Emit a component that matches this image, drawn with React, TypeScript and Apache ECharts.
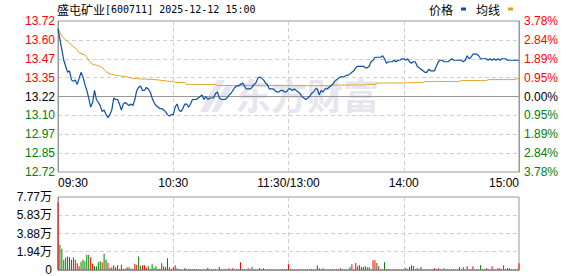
import React, { useEffect, useRef } from "react";
import * as echarts from "echarts";

const stockName = "盛屯矿业";
const stockInfo = "[600711] 2025-12-12 15:00";
const prevClose = 13.22;
const priceHalfRange = 0.5;
const priceInterval = 0.125;

const priceTickLabels = ["12.72", "12.85", "12.97", "13.10", "13.22", "13.35", "13.47", "13.60", "13.72"];
const pctTickLabels = ["3.78%", "2.84%", "1.89%", "0.95%", "0.00%", "0.95%", "1.89%", "2.84%", "3.78%"];
const volMax = 77700;
const volInterval = 19425;
const volTickLabels = ["0", "1.94万", "3.88万", "5.83万", "7.77万"];
const timeTickIndex = [0, 60, 120, 180, 240];
const timeTickLabels = ["09:30", "10:30", "11:30/13:00", "14:00", "15:00"];

// minute-by-minute price (241 points)
const prices = [
  13.67, 13.60, 13.53, 13.46, 13.42, 13.38, 13.39, 13.33, 13.32, 13.33,
  13.30, 13.34, 13.38, 13.35, 13.30, 13.26, 13.21, 13.15, 13.18, 13.26,
  13.20, 13.18, 13.16, 13.12, 13.13, 13.10, 13.08, 13.10, 13.13, 13.21,
  13.20, 13.20, 13.17, 13.13, 13.17, 13.18, 13.17, 13.16, 13.17, 13.16,
  13.20, 13.26, 13.28, 13.29, 13.26, 13.26, 13.28, 13.27, 13.25, 13.21,
  13.18, 13.16, 13.15, 13.14, 13.14, 13.13, 13.12, 13.10, 13.09, 13.10,
  13.10, 13.15, 13.17, 13.13, 13.12, 13.14, 13.17, 13.17, 13.15, 13.17,
  13.20, 13.20, 13.20, 13.21, 13.22, 13.23, 13.20, 13.22, 13.20, 13.21,
  13.21, 13.21, 13.24, 13.25, 13.21, 13.20, 13.20, 13.20, 13.21, 13.23,
  13.24, 13.26, 13.28, 13.29, 13.29, 13.30, 13.31, 13.29, 13.27, 13.27,
  13.27, 13.28, 13.30, 13.31, 13.34, 13.35, 13.34, 13.33, 13.31, 13.30,
  13.27, 13.27, 13.27, 13.26, 13.25, 13.25, 13.26, 13.26, 13.25, 13.25,
  13.27, 13.27, 13.26, 13.27, 13.26, 13.25, 13.24, 13.22, 13.21, 13.20,
  13.21, 13.22, 13.24, 13.25, 13.27, 13.27, 13.23, 13.26, 13.25, 13.27,
  13.27, 13.28, 13.29, 13.30, 13.32, 13.33, 13.34, 13.35, 13.35, 13.35,
  13.36, 13.36, 13.37, 13.38, 13.39, 13.41, 13.42, 13.42, 13.42, 13.42,
  13.41, 13.41, 13.42, 13.45, 13.46, 13.48, 13.48, 13.48, 13.48, 13.49,
  13.47, 13.44, 13.45, 13.45, 13.45, 13.46, 13.45, 13.46, 13.46, 13.47,
  13.47, 13.46, 13.47, 13.45, 13.44, 13.45, 13.45, 13.42, 13.41, 13.40,
  13.39, 13.38, 13.38, 13.40, 13.39, 13.39, 13.39, 13.42, 13.45, 13.46,
  13.46, 13.45, 13.45, 13.45, 13.46, 13.47, 13.46, 13.46, 13.46, 13.46,
  13.46, 13.45, 13.46, 13.49, 13.47, 13.48, 13.50, 13.50, 13.50, 13.49,
  13.47, 13.47, 13.47, 13.47, 13.46, 13.47, 13.46, 13.47, 13.46, 13.47,
  13.46, 13.47, 13.47, 13.47, 13.46, 13.46, 13.46, 13.46, 13.46, 13.46,
  13.46,
];

// average price line (241 points)
const avgPrices = [
  13.670, 13.643, 13.620, 13.605, 13.595, 13.585, 13.575, 13.560, 13.550, 13.540,
  13.530, 13.510, 13.505, 13.500, 13.495, 13.480, 13.460, 13.443, 13.434, 13.430,
  13.427, 13.423, 13.420, 13.410, 13.400, 13.386, 13.377, 13.370, 13.366, 13.364,
  13.360, 13.360, 13.357, 13.355, 13.353, 13.353, 13.350, 13.346, 13.344, 13.340,
  13.340, 13.340, 13.337, 13.337, 13.335, 13.335, 13.335, 13.334, 13.334, 13.333,
  13.332, 13.331, 13.330, 13.328, 13.326, 13.326, 13.324, 13.322, 13.320, 13.320,
  13.317, 13.314, 13.313, 13.313, 13.313, 13.313, 13.312, 13.300, 13.300, 13.300,
  13.300, 13.300, 13.300, 13.300, 13.300, 13.300, 13.300, 13.300, 13.300, 13.300,
  13.300, 13.300, 13.300, 13.293, 13.293, 13.293, 13.293, 13.293, 13.293, 13.293,
  13.293, 13.293, 13.293, 13.293, 13.293, 13.293, 13.293, 13.293, 13.293, 13.293,
  13.293, 13.293, 13.293, 13.293, 13.293, 13.293, 13.293, 13.293, 13.293, 13.293,
  13.293, 13.293, 13.293, 13.293, 13.293, 13.293, 13.293, 13.293, 13.293, 13.293,
  13.292, 13.292, 13.292, 13.292, 13.292, 13.292, 13.292, 13.292, 13.292, 13.292,
  13.292, 13.292, 13.292, 13.292, 13.292, 13.292, 13.292, 13.292, 13.292, 13.292,
  13.292, 13.292, 13.296, 13.296, 13.296, 13.296, 13.296, 13.296, 13.296, 13.296,
  13.296, 13.296, 13.296, 13.296, 13.296, 13.296, 13.296, 13.296, 13.296, 13.296,
  13.296, 13.300, 13.300, 13.300, 13.300, 13.300, 13.309, 13.309, 13.309, 13.309,
  13.309, 13.309, 13.309, 13.309, 13.309, 13.309, 13.309, 13.309, 13.309, 13.309,
  13.309, 13.312, 13.312, 13.312, 13.312, 13.312, 13.312, 13.312, 13.312, 13.312,
  13.312, 13.319, 13.319, 13.319, 13.319, 13.319, 13.319, 13.319, 13.319, 13.319,
  13.319, 13.319, 13.319, 13.319, 13.319, 13.319, 13.319, 13.319, 13.319, 13.319,
  13.326, 13.326, 13.326, 13.326, 13.326, 13.326, 13.326, 13.326, 13.326, 13.326,
  13.326, 13.326, 13.326, 13.326, 13.332, 13.332, 13.332, 13.332, 13.332, 13.332,
  13.332, 13.332, 13.332, 13.332, 13.332, 13.332, 13.332, 13.332, 13.332, 13.338,
  13.338,
];

// minute volumes (241 bars)
const volumes = [
  72000, 27000, 22700, 11000, 13100, 14500, 13500, 11000, 13500, 11000,
  7100, 3900, 8900, 11000, 9200, 16300, 16300, 13500, 6700, 3900,
  3900, 8200, 9200, 8200, 17400, 11000, 7800, 2100, 2800, 5000,
  2800, 5000, 1000, 5700, 1400, 1400, 2800, 2800, 1400, 1400,
  6700, 5700, 14500, 4600, 5000, 5000, 2100, 3900, 1400, 6000,
  2100, 3900, 1000, 1400, 7100, 3900, 2800, 12400, 2800, 1000,
  2800, 5000, 1800, 700, 900, 600, 1800, 900, 700, 800,
  900, 1100, 700, 800, 900, 600, 800, 700, 2500, 900,
  800, 700, 900, 600, 3200, 800, 900, 1100, 700, 1800,
  800, 1800, 700, 900, 800, 8200, 700, 900, 800, 1800,
  700, 3200, 800, 900, 700, 2500, 800, 1800, 900, 700,
  800, 900, 700, 800, 600, 900, 800, 700, 900, 1000,
  6000, 800, 900, 700, 800, 900, 700, 800, 900, 700,
  800, 900, 1100, 800, 700, 5000, 1800, 900, 1800, 800,
  700, 900, 800, 700, 900, 800, 700, 1800, 900, 800,
  700, 900, 2800, 6000, 900, 7500, 3900, 5000, 3200, 3200,
  3900, 2800, 2800, 900, 10300, 10300, 7500, 3900, 700, 700,
  8200, 700, 900, 800, 700, 900, 800, 900, 700, 800,
  900, 2100, 800, 3200, 5000, 4200, 900, 2100, 800, 3200,
  800, 700, 900, 800, 700, 900, 1800, 800, 1800, 700,
  900, 1800, 800, 700, 900, 800, 700, 900, 800, 2800,
  900, 2800, 800, 3900, 900, 800, 3900, 900, 800, 700,
  5000, 900, 800, 1800, 700, 900, 3900, 800, 700, 1800,
  1800, 900, 5000, 800, 1800, 1800, 900, 700, 900, 800,
  7100,
];

// bar direction per minute: r = up (red), g = down (green)
const volumeDirs =
  "rggggrgggr" + "rrgggggrrg" + "gggrggrrrg" + "rgrrrgrggr" + "rrggrrrggg" +
  "ggrrgrrgrr" + "rrgrrrrrrr" + "rgrrrrrrgr" + "rrrrgrrgrr" + "rrrrrrrrrr" +
  "rgrrrrrrgg" + "ggrrrrrrrg" + "rggggggggg" + "grrrrggrgg" + "grggrggrgr" +
  "gggrrrrgrg" + "rggrrrgrgr" + "grrrrrrrrr" + "rggggrrggg" + "rrgrrrrrrr" +
  "rgrrrrrrgg" + "grgrgrrgrr" + "grrrrrrrrr" + "rrgrrgrrrr" + "r";

const times: string[] = [];
for (let m = 9 * 60 + 30; m <= 11 * 60 + 30; m++) {
  times.push(`${String(Math.floor(m / 60)).padStart(2, "0")}:${String(m % 60).padStart(2, "0")}`);
}
for (let m = 13 * 60 + 1; m <= 15 * 60; m++) {
  times.push(`${String(Math.floor(m / 60)).padStart(2, "0")}:${String(m % 60).padStart(2, "0")}`);
}

const RED = "#ff0000";
const GREEN = "#008000";
const LABEL_FONT = "'Liberation Sans', 'Noto Sans CJK SC', sans-serif";
const GRID_LINE = { type: [4, 3] as any, color: "#d0d0d0", width: 1 };

function levelColor(v: number) {
  if (Math.abs(v) < 1e-6) return "#000000";
  return v > 0 ? RED : GREEN;
}

export default function App() {
  const ref = useRef<HTMLDivElement>(null);
  useEffect(() => {
    if (!ref.current) return;
    const chart = echarts.init(ref.current, null, { renderer: "svg" });
    const isTick = (i: number) => timeTickIndex.indexOf(i) >= 0;
    const isInnerTick = (i: number) => isTick(i) && i !== 0 && i !== times.length - 1;
    const option: any = {
      animation: false,
      backgroundColor: "#ffffff",
      title: {
        text: `{a|${stockName}}{b|${stockInfo}}`,
        left: 57,
        top: 3,
        padding: 0,
        textStyle: {
          rich: {
            a: { fontFamily: "'Noto Sans CJK SC'", fontSize: 12, color: "#000", fontWeight: "normal" },
            b: { fontFamily: "'DejaVu Sans Mono', monospace", fontSize: 10, color: "#000", fontWeight: "normal" },
          },
        },
      },
      legend: {
        right: 65,
        top: 3,
        padding: 0,
        icon: "rect",
        itemWidth: 5,
        itemHeight: 3,
        itemGap: 10,
        align: "right",
        textStyle: { fontFamily: "'Noto Sans CJK SC'", fontSize: 12, color: "#000", padding: [0, 3, 0, 0] },
        data: ["价格", "均线"],
      },
      graphic: [
        {
          type: "polygon",
          z: -1,
          shape: { points: [[200, 112], [217, 80], [225, 80], [208, 112]] },
          style: { fill: "#e6e6ec" },
        },
        {
          type: "polygon",
          z: -1,
          shape: { points: [[211, 112], [226, 85], [233, 85], [218, 112]] },
          style: { fill: "#e6e6ec" },
        },
        {
          type: "text",
          z: -1,
          left: 235,
          top: 76,
          style: {
            text: "东方财富",
            font: "bold 36px 'Noto Sans CJK SC'",
            fill: "#e6e6ec",
          },
        },
      ],
      grid: [
        { left: 58, right: 59, top: 21, height: 151, show: true, borderColor: "#999", borderWidth: 1, backgroundColor: "transparent" },
        { left: 58, right: 59, top: 197, height: 73, show: true, borderColor: "#999", borderWidth: 1, backgroundColor: "transparent" },
      ],
      xAxis: [
        {
          type: "category",
          gridIndex: 0,
          data: times,
          boundaryGap: false,
          axisLine: { show: true, lineStyle: { color: "#999" } },
          axisTick: { show: false },
          axisLabel: {
            interval: (i: number) => isTick(i),
            formatter: (_v: string, i: number) => timeTickLabels[timeTickIndex.indexOf(i)],
            color: "#000",
            fontSize: 12,
            fontFamily: LABEL_FONT,
            margin: 5,
            alignMinLabel: "left",
            alignMaxLabel: "right",
            showMinLabel: true,
            showMaxLabel: true,
          },
          splitLine: { show: true, interval: (i: number) => isInnerTick(i), lineStyle: GRID_LINE },
        },
        {
          type: "category",
          gridIndex: 1,
          data: times,
          boundaryGap: false,
          axisLine: { show: true, lineStyle: { color: "#999" } },
          axisTick: { show: false },
          axisLabel: { show: false },
          splitLine: { show: true, interval: (i: number) => isInnerTick(i), lineStyle: GRID_LINE },
        },
      ],
      yAxis: [
        {
          type: "value",
          gridIndex: 0,
          min: -priceHalfRange,
          max: priceHalfRange,
          interval: priceInterval,
          axisLine: { show: true, lineStyle: { color: "#999" } },
          axisTick: { show: false },
          axisLabel: {
            margin: 3,
            fontSize: 12,
            fontFamily: LABEL_FONT,
            formatter: (v: number) => priceTickLabels[Math.round((Number(v) + priceHalfRange) / priceInterval)],
            color: (v: any) => levelColor(Number(v)),
          },
          splitLine: { show: true, showMinLine: false, showMaxLine: false, lineStyle: GRID_LINE },
        },
        {
          type: "value",
          gridIndex: 0,
          position: "right",
          min: -priceHalfRange,
          max: priceHalfRange,
          interval: priceInterval,
          axisLine: { show: true, lineStyle: { color: "#999" } },
          axisTick: { show: false },
          axisLabel: {
            margin: 5,
            fontSize: 12,
            fontFamily: LABEL_FONT,
            formatter: (v: number) => pctTickLabels[Math.round((Number(v) + priceHalfRange) / priceInterval)],
            color: (v: any) => levelColor(Number(v)),
          },
          splitLine: { show: false },
        },
        {
          type: "value",
          gridIndex: 1,
          min: 0,
          max: volMax,
          interval: volInterval,
          axisLine: { show: true, lineStyle: { color: "#999" } },
          axisTick: { show: false },
          axisLabel: {
            margin: 6,
            fontSize: 12,
            fontFamily: LABEL_FONT,
            color: "#000",
            formatter: (v: number) => volTickLabels[Math.round(Number(v) / volInterval)],
          },
          splitLine: { show: true, showMinLine: false, showMaxLine: false, lineStyle: GRID_LINE },
        },
      ],
      series: [
        {
          name: "均线",
          type: "line",
          xAxisIndex: 0,
          yAxisIndex: 0,
          data: avgPrices.map((p) => +(p - prevClose).toFixed(4)),
          showSymbol: false,
          symbol: "none",
          color: "#e0a020",
          lineStyle: { color: "#e0a020", width: 1 },
        },
        {
          name: "价格",
          type: "line",
          xAxisIndex: 0,
          yAxisIndex: 0,
          data: prices.map((p) => +(p - prevClose).toFixed(4)),
          showSymbol: false,
          symbol: "none",
          color: "#0b4fa3",
          lineStyle: { color: "#0b4fa3", width: 1.2 },
        },
        {
          name: "成交量",
          type: "bar",
          xAxisIndex: 1,
          yAxisIndex: 2,
          barWidth: 1,
          data: volumes.map((v, i) => ({
            value: v,
            itemStyle: { color: volumeDirs[i] === "g" ? GREEN : RED },
          })),
        },
      ],
    };
    chart.setOption(option);
    return () => chart.dispose();
  }, []);
  return (
    <div
      ref={ref}
      style={{ position: "fixed", left: 0, top: 0, width: 578, height: 276, background: "#fff" }}
    />
  );
}
